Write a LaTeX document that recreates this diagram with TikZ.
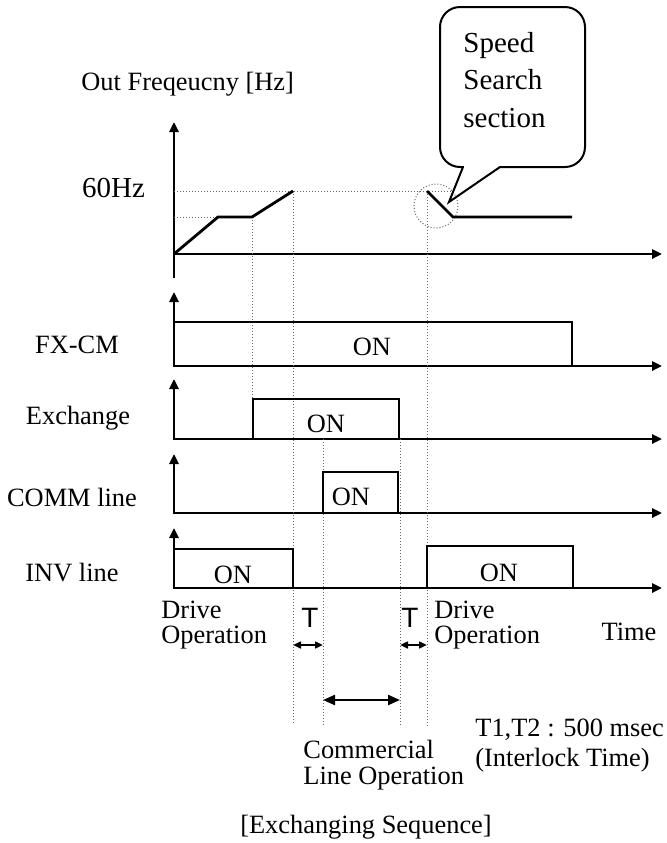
\documentclass[tikz,border=0pt]{standalone}
\usepackage{fontspec}
\setmainfont{Liberation Serif}
\newfontfamily\tsans{Liberation Sans}
\usetikzlibrary{arrows.meta,positioning}

\begin{document}
\begin{tikzpicture}[x=0.5pt,y=-0.5pt,
 lbl/.style={inner sep=0pt,align=left,font=\fontsize{13.2pt}{12.8pt}\selectfont},
 axis/.style={line width=1.35pt,line join=miter,-{Triangle[length=5pt,width=4.6pt]}},
 laxis/.style={line width=1.35pt,line join=miter,{Triangle[length=5pt,width=4.6pt]}-{Triangle[length=5pt,width=4.6pt]}},
 pulse/.style={line width=1pt},
 trace/.style={line width=1.4pt,line join=miter},
 guide/.style={black!60,line width=0.5pt,densely dotted},
 span/.style={line width=1pt,{Triangle[length=4pt,width=3.4pt]}-{Triangle[length=4pt,width=3.4pt]}},
 bigspan/.style={line width=1.1pt,{Triangle[length=6pt,width=5pt]}-{Triangle[length=6pt,width=5pt]}}]
\useasboundingbox (0,0) rectangle (666,843);
% frequency axes
\draw[axis] (174,278) -- (174,122);
\draw[axis] (174,254) -- (662,254);
% signal axes: FX-CM, Exchange, COMM, INV
\foreach \yb/\yt in {366/292,439/379,513/454,588/528}
  \draw[laxis] (174,\yt) -- (174,\yb) -- (662,\yb);
% dotted guides
\draw[guide] (174,191) -- (453,191);
\draw[guide] (174,217) -- (218,217);
\draw[guide] (252,217) -- (252,399);
\draw[guide] (293,191) -- (293,725);
\draw[guide] (323,439) -- (323,727);
\draw[guide] (400,439) -- (400,727);
\draw[guide] (427,191) -- (427,727);
\draw[guide] (436,206) circle[radius=22];
% output frequency
\draw[trace] (174,254) -- (218,217) -- (252,217) -- (293,191);
\draw[trace] (427,191) -- (453,217) -- (572,217);
% pulses
\draw[pulse] (174,322) -- (572,322) -- (572,366);
\draw[pulse] (253,439) -- (253,399) -- (399,399) -- (399,439);
\draw[pulse] (323,513) -- (323,472) -- (398,472) -- (398,513);
\draw[pulse] (174,549) -- (293,549) -- (293,588);
\draw[pulse] (427,588) -- (427,546) -- (573,546) -- (573,588);
% speech bubble
\node[draw,line width=1pt,rounded corners=10pt,minimum width=72.5pt,minimum height=80pt,inner sep=0pt](bubble) at (512.5,87){};
\coordinate (tip) at (449,202);
\fill[white] (464,164) rectangle (499,169.5);
\draw[line width=1pt,line join=miter] (463,167) -- (tip) -- (500,167);
\node[lbl,anchor=west,font=\fontsize{14.5pt}{18.75pt}\selectfont](sstxt) at (463,80){Speed\\Search\\section};
% labels
\node[lbl,anchor=west](flab) at (81,84){Out Freqeucny [Hz]};
\node[lbl,font=\fontsize{14.5pt}{14.5pt}\selectfont](hz) at (113.5,188){60Hz};
\node[lbl](fxcm) at (77,345){FX-CM};
\node[lbl](exch) at (78,418){Exchange};
\node[lbl](comm) at (72,497){COMM line};
\node[lbl](inv) at (72,573){INV line};
\node[lbl](on1) at (372,347){ON};
\node[lbl](on2) at (326,424){ON};
\node[lbl](on3) at (351,497){ON};
\node[lbl](on4) at (233,575){ON};
\node[lbl](on5) at (499,573){ON};
\node[lbl,anchor=west](drv1) at (161,625){Drive\\Operation};
\node[lbl,anchor=west](drv2) at (434,625){Drive\\Operation};
\node[lbl](time) at (629,632){Time};
\node[inner sep=0pt,font=\tsans\fontsize{14pt}{14pt}\selectfont](ta) at (310,618){T};
\node[inner sep=0pt,font=\tsans\fontsize{14pt}{14pt}\selectfont](tb) at (410,618){T};
\coordinate (a1) at (293,645); \coordinate (a2) at (323,645);
\coordinate (b1) at (400,645); \coordinate (b2) at (427,645);
\coordinate (c1) at (323,700); \coordinate (c2) at (400,700);
\draw[span] (a1) -- (a2);
\draw[span] (b1) -- (b2);
\draw[bigspan] (c1) -- (c2);
\node[lbl,anchor=west](coml) at (303,765){Commercial\\Line Operation};
\node[lbl,anchor=west,font=\fontsize{13.2pt}{15pt}\selectfont](note) at (475,746){T1,T2 : 500 msec\\(Interlock Time)};
\node[lbl](title) at (366,827){[Exchanging Sequence]};
\end{tikzpicture}
\end{document}
